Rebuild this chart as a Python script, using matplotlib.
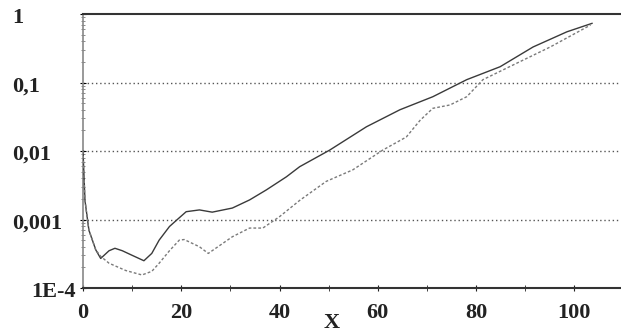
import numpy as np
import matplotlib
matplotlib.use("Agg")
import matplotlib.pyplot as plt
from matplotlib.transforms import ScaledTranslation

# curva continua
x_solid = [0, 0.4, 1.2, 2.6, 3.6, 5.3, 6.5, 8, 10, 12.4, 14, 15.5, 17.6, 19.2, 21,
           23.7, 26.3, 30.4, 33.9, 37.3, 41.4, 44.1, 50.2, 57.7, 64.5, 71.2, 78.1,
           84.9, 91.6, 98.5, 103.6]
y_solid = [0.01, 1.9e-3, 7e-4, 3.6e-4, 2.7e-4, 3.5e-4, 3.8e-4, 3.5e-4, 3e-4, 2.5e-4,
           3.2e-4, 5e-4, 7.9e-4, 1.0e-3, 1.3e-3, 1.38e-3, 1.28e-3, 1.47e-3, 1.93e-3,
           2.7e-3, 4.2e-3, 5.9e-3, 0.0103, 0.0226, 0.04, 0.062, 0.11, 0.17, 0.33,
           0.55, 0.73]

# curva tratteggiata
x_dot = [0, 0.4, 1.2, 2.6, 3.6, 5.3, 8.7, 12, 14, 15.5, 17.6, 19.6, 20.6, 23.7, 25.5,
         30.4, 33.9, 36.6, 40, 44.1, 49.5, 54.9, 61, 65.8, 68.6, 71.2, 74.7, 78.1,
         81.4, 88.2, 95.1, 103.3]
y_dot = [0.01, 1.9e-3, 7e-4, 3.6e-4, 2.9e-4, 2.3e-4, 1.8e-4, 1.55e-4, 1.75e-4, 2.3e-4,
         3.5e-4, 5e-4, 5.1e-4, 4e-4, 3.2e-4, 5.6e-4, 7.5e-4, 7.5e-4, 1.1e-3, 1.9e-3,
         3.6e-3, 5.3e-3, 0.0103, 0.016, 0.028, 0.042, 0.047, 0.062, 0.11, 0.19,
         0.33, 0.69]

y_ticks = [1, 0.1, 0.01, 0.001, 1e-4]
y_ticklabels = ["1", "0,1", "0,01", "0,001", "1E-4"]
x_ticks = [0, 20, 40, 60, 80, 100]

plt.rcParams['font.family'] = ['Liberation Serif', 'DejaVu Serif']
plt.rcParams['font.weight'] = 'bold'
fs = 16

fig = plt.figure(figsize=(6.21, 3.33), dpi=100)
ax = fig.add_axes([83/621, 1 - 288/333, 1 - 83/621, (288 - 14)/333])

ax.plot(x_solid, y_solid, color='#3a3a3a', linewidth=1.0, zorder=3)
ax.plot(x_dot, y_dot, color='#7a7a7a', linewidth=1.0, linestyle=(0, (2, 1.5)), zorder=3)

ax.set_yscale('log')
ax.set_ylim(1e-4, 1)
ax.set_xlim(0, 109.5)

# griglia orizzontale punteggiata
for yv in [0.1, 0.01, 0.001]:
    ax.axhline(yv, color='#555555', linewidth=1.0, linestyle=(0, (1, 2)), zorder=1)

ax.spines['right'].set_visible(False)
ax.spines['top'].set_color('#333333')
ax.spines['top'].set_linewidth(1.5)
ax.spines['bottom'].set_color('#333333')
ax.spines['bottom'].set_linewidth(1.5)
ax.spines['left'].set_color('#888888')
ax.spines['left'].set_linewidth(1.2)
ax.spines['left'].set_linestyle((0, (1, 1)))

# etichette y: allineate a sinistra, tranne 1E-4 (a destra), un po' sotto le linee
ax.set_yticks(y_ticks)
ax.set_yticklabels([])
ytr = ax.get_yaxis_transform() + ScaledTranslation(0, -4/100, fig.dpi_scale_trans)
for yv, lab in zip(y_ticks, y_ticklabels):
    if lab == "1E-4":
        ax.text((76 - 83) / 538, yv, lab, transform=ytr, ha='right', va='center',
                fontsize=fs, color='#222222')
    else:
        ax.text((12 - 83) / 538, yv, lab, transform=ytr, ha='left', va='center',
                fontsize=fs, color='#222222')

ax.set_xticks(x_ticks)
ax.set_xticks(np.arange(10, 110, 20), minor=True)
ax.tick_params(axis='y', which='major', length=4, direction='inout')
ax.tick_params(axis='y', which='minor', length=3, direction='inout', color='#777777')
ax.tick_params(axis='x', which='both', length=5, direction='inout', pad=8,
               labelsize=fs, colors='#222222')

fig.text(332 / 621, 0 / 333, 'X', ha='center', va='bottom', fontsize=fs, color='#222222')

fig.savefig('out.png', dpi=100)
